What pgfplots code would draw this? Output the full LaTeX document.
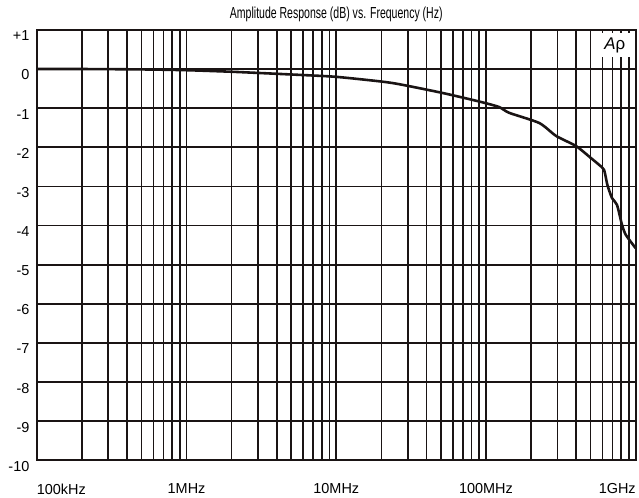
\documentclass[border=0pt]{standalone}
\usepackage{pgfplots}
\pgfplotsset{compat=1.18}
\usepackage{fontspec}
\setmainfont{Liberation Sans}
\newfontfamily\titlefont{Liberation Sans}[FakeStretch=0.66]
\definecolor{ink}{HTML}{1A1414}
\begin{document}
\begin{tikzpicture}
\begin{axis}[
    scale only axis,
    width=601pt, height=432pt,
    xmode=log,
    xmin=1e5, xmax=1e9,
    ymin=-10, ymax=1,
    ytick={-10,-9,...,1},
    yticklabels={-10,-9,-8,-7,-6,-5,-4,-3,-2,-1,0,+1},
    xtick={1e5,1e6,1e7,1e8,1e9},
    xticklabel={\ifcase\ticknum \makebox[0pt][l]{100kHz}\or 1MHz\or 10MHz\or 100MHz\or \makebox[0pt][r]{1GHz}\fi},
    grid=both,
    major grid style={line width=1.7pt, ink},
    minor grid style={line width=1.7pt, ink},
    axis line style={line width=1.9pt, ink},
    major tick length=0pt, minor tick length=0pt,
    tick label style={font=\fontsize{14.5}{16}\selectfont},
    yticklabel style={yshift=-6pt, xshift=-4pt},
    xticklabel style={yshift=-20pt},
    title={Amplitude Response (dB) vs. Frequency (Hz)},
    title style={font=\titlefont\fontsize{16}{18}\selectfont, at={(0.5,1)}, anchor=south, yshift=-1.5pt},
]
\addplot[ink, line width=2.6pt, smooth, tension=0.4] coordinates {
    (1e5,0) (2e5,0) (5e5,-0.01) (1e6,-0.03) (2e6,-0.07) (3e6,-0.1)
    (5.7e6,-0.15) (1e7,-0.2) (2e7,-0.32) (2.65e7,-0.39) (5.1e7,-0.61)
    (9e7,-0.83) (1.22e8,-0.97) (1.43e8,-1.12) (2.27e8,-1.38)
    (2.94e8,-1.71) (4e8,-1.97) (5.04e8,-2.28) (5.7e8,-2.45)
    (6.15e8,-2.58) (6.47e8,-2.96) (6.95e8,-3.3) (7.5e8,-3.47)
    (8.1e8,-3.98) (8.6e8,-4.24) (1e9,-4.58)
};
\node[fill=white, inner sep=0pt, minimum width=34pt, minimum height=24pt,
      font=\fontsize{17}{19}\selectfont]
    at (rel axis cs:0.965,0.965) {\textit{A}ρ};
\coordinate (sw) at (rel axis cs:0,0);
\coordinate (ne) at (rel axis cs:1,1);
\end{axis}
\path (sw) ++(-37pt,-37pt);
\path (ne) ++(1pt,30pt);
\end{tikzpicture}
\end{document}
